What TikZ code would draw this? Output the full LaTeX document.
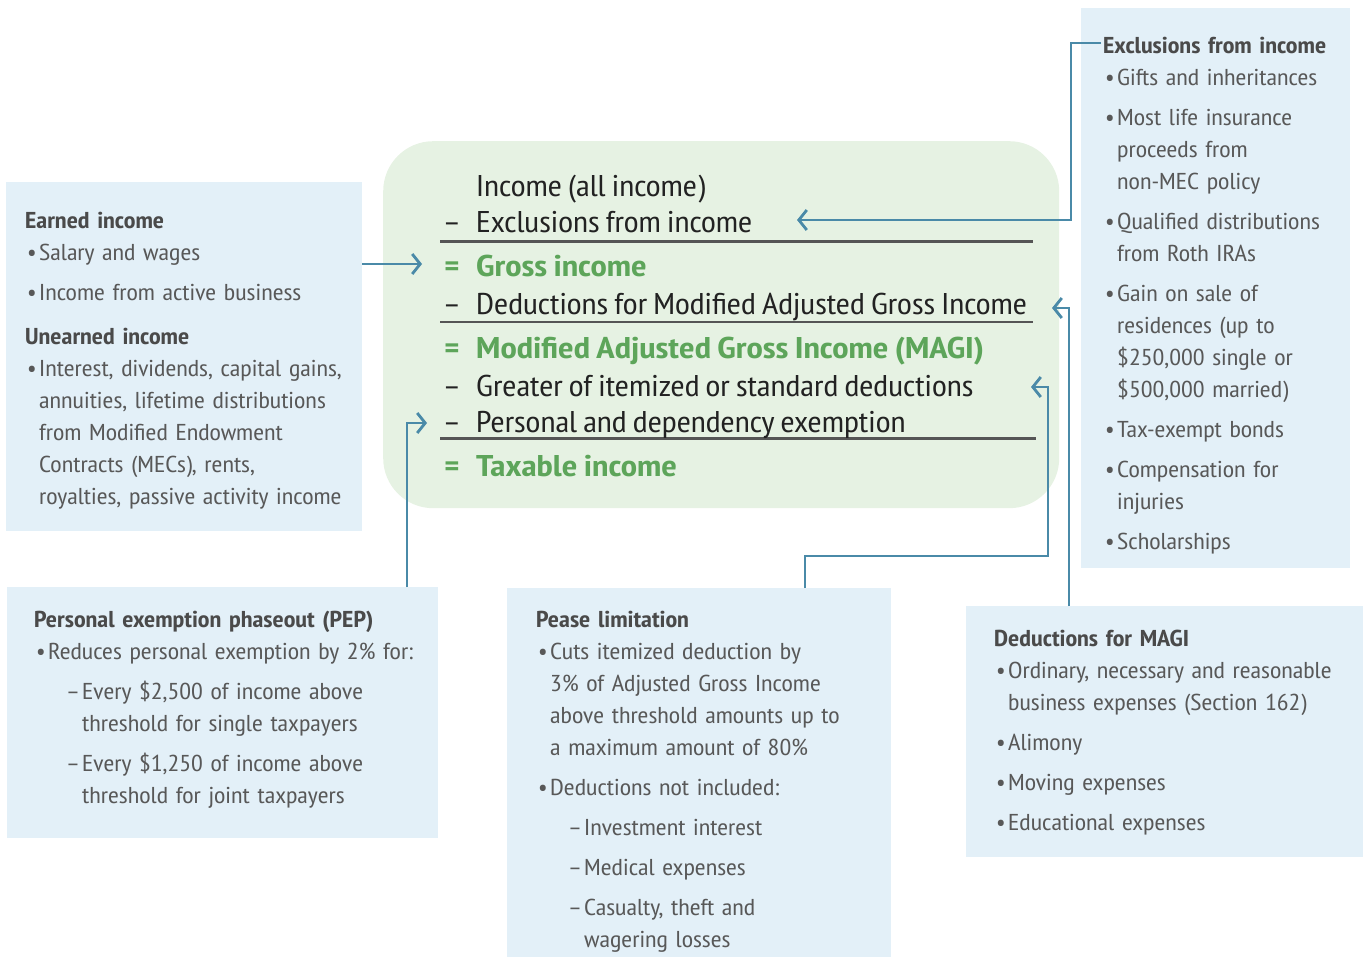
\documentclass[tikz,border=0pt]{standalone}
\usepackage{fontspec}
\setmainfont[FakeStretch=1.14,WordSpace=0.85]{PT Sans Narrow}
\newfontfamily\widefont[FakeStretch=1.22,WordSpace=0.85]{PT Sans Narrow}
\usetikzlibrary{arrows.meta,calc}

\definecolor{boxblue}{HTML}{E3F0F8}
\definecolor{sumgreen}{HTML}{E6F2E3}
\definecolor{linkblue}{HTML}{4A8AA8}
\definecolor{greentext}{HTML}{5DA55A}
\definecolor{headgray}{HTML}{4A4A4A}
\definecolor{bodygray}{HTML}{585858}
\definecolor{maintext}{HTML}{222222}
\definecolor{rulegray}{HTML}{555555}

\newcommand\bulit{\makebox[14pt][l]{\hspace{2pt}•}}
\newcommand\bindent{\hspace*{14pt}}
\newcommand\dashit{\hspace*{32pt}\makebox[16pt][l]{–}}
\newcommand\dindent{\hspace*{48pt}}
\newcommand\hd[1]{\textbf{\color{headgray}#1}}

\tikzset{
  infobox/.style={fill=boxblue, draw=none, anchor=north west, inner sep=0pt},
  sumbox/.style={fill=sumgreen, draw=none, anchor=north west, inner sep=0pt, rounded corners=50pt},
  boxtext/.style={anchor=base west, inner sep=0pt, align=left, text width=420pt,
    text=bodygray, font=\fontsize{23}{32}\selectfont},
  mainrow/.style={anchor=base west, inner sep=0pt, text=maintext, font=\fontsize{30}{36}\selectfont},
  greenrow/.style={anchor=base west, inner sep=0pt, text=greentext, font=\widefont\fontsize{30}{36}\selectfont\bfseries},
  minussign/.style={anchor=base, inner sep=0pt, text=maintext, font=\fontsize{30}{36}\selectfont},
  equalsign/.style={anchor=base, inner sep=0pt, text=greentext, font=\fontsize{30}{36}\selectfont\bfseries},
  sumrule/.style={draw=rulegray, line width=2.2pt},
  link/.style={draw=linkblue, line width=2pt},
  tipend/.style={-{Straight Barb[length=8pt,width=20pt,line width=2.8pt]}}
}

\begin{document}
\begin{tikzpicture}[x=1pt,y=-1pt]
\useasboundingbox (0,0) rectangle (1364,957);

% background panels
\node[infobox, minimum width=269pt, minimum height=560pt] (exbox) at (1081,8) {};
\node[infobox, minimum width=356pt, minimum height=349pt] (earnbox) at (6,182) {};
\node[infobox, minimum width=431pt, minimum height=251pt] (pepbox) at (7,587) {};
\node[infobox, minimum width=384pt, minimum height=370pt] (peasebox) at (507,588) {};
\node[infobox, minimum width=397pt, minimum height=251pt] (magibox) at (966,606) {};
\node[sumbox, minimum width=676pt, minimum height=367pt] (sumbox) at (383,141) {};

% rules of the calculation
\draw[sumrule] (440,241.5) -- (1033,241.5);
\draw[sumrule] (440,322) -- (1033,322);
\draw[sumrule] (440,438.5) -- (1036,438.5);

% connector bends and tips
\coordinate (exstart) at (1101,43);
\coordinate (exbend) at (1071,220);
\coordinate (extip) at (797,220);
\coordinate (grosstip) at (422,264);
\coordinate (pepbend) at (407,423);
\coordinate (peptip) at (427,423);
\coordinate (pbend1) at (805,556);
\coordinate (pbend2) at (1048,556);
\coordinate (ptip) at (1031,387);
\coordinate (mbend) at (1069,308);
\coordinate (mtip) at (1052,308);

\draw[link,tipend] (exstart) -| (exbend) -- (extip);
\draw[link,tipend] (earnbox.east |- grosstip) -- (grosstip);
\draw[link,tipend] (pepbend |- pepbox.north) -- (pepbend) -- (peptip);
\draw[link,tipend] (pbend1 |- peasebox.north) -- (pbend1) -- (pbend2) |- (ptip);
\draw[link,tipend] (mbend |- magibox.north) -- (mbend) -- (mtip);

% calculation rows
\node[mainrow] (r1) at (476,197) {Income (all income)};
\node[minussign] (s2) at (452,233) {–};
\node[mainrow] (r2) at (476,233) {Exclusions from income};
\node[equalsign] (s3) at (452,277) {=};
\node[greenrow] (r3) at (476,277) {Gross income};
\node[minussign] (s4) at (452,314) {–};
\node[mainrow] (r4) at (476,314) {Deductions for Modified Adjusted Gross Income};
\node[equalsign] (s5) at (452,358) {=};
\node[greenrow] (r5) at (476,358) {Modified Adjusted Gross Income (MAGI)};
\node[minussign] (s6) at (452,396) {–};
\node[mainrow] (r6) at (476,396) {Greater of itemized or standard deductions};
\node[minussign] (s7) at (452,432) {–};
\node[mainrow] (r7) at (476,432) {Personal and dependency exemption};
\node[equalsign] (s8) at (452,476) {=};
\node[greenrow] (r8) at (476,476) {Taxable income};

% panel texts
\node[boxtext] (extxt) at (1103,54) {\hd{Exclusions from income}\\
\bulit Gifts and inheritances\\[8pt]
\bulit Most life insurance\\
\bindent proceeds from\\
\bindent non-MEC policy\\[8pt]
\bulit Qualified distributions\\
\bindent from Roth IRAs\\[8pt]
\bulit Gain on sale of\\
\bindent residences (up to\\
\bindent \$250,000 single or\\
\bindent \$500,000 married)\\[8pt]
\bulit Tax-exempt bonds\\[8pt]
\bulit Compensation for\\
\bindent injuries\\[8pt]
\bulit Scholarships};

\node[boxtext] (earntxt) at (25,229) {\hd{Earned income}\\
\bulit Salary and wages\\[8pt]
\bulit Income from active business\\[12pt]
\hd{Unearned income}\\
\bulit Interest, dividends, capital gains,\\
\bindent annuities, lifetime distributions\\
\bindent from Modified Endowment\\
\bindent Contracts (MECs), rents,\\
\bindent royalties, passive activity income};

\node[boxtext] (peptxt) at (34,627) {\hd{Personal exemption phaseout (PEP)}\\
\bulit Reduces personal exemption by 2\% for:\\[8pt]
\dashit Every \$2,500 of income above\\
\dindent threshold for single taxpayers\\[8pt]
\dashit Every \$1,250 of income above\\
\dindent threshold for joint taxpayers};

\node[boxtext] (peasetxt) at (536,627) {\hd{Pease limitation}\\
\bulit Cuts itemized deduction by\\
\bindent 3\% of Adjusted Gross Income\\
\bindent above threshold amounts up to\\
\bindent a maximum amount of 80\%\\[8pt]
\bulit Deductions not included:\\[8pt]
\dashit Investment interest\\[8pt]
\dashit Medical expenses\\[8pt]
\dashit Casualty, theft and\\
\dindent wagering losses};

\node[boxtext] (magitxt) at (994,646) {\hd{Deductions for MAGI}\\
\bulit Ordinary, necessary and reasonable\\
\bindent business expenses (Section 162)\\[8pt]
\bulit Alimony\\[8pt]
\bulit Moving expenses\\[8pt]
\bulit Educational expenses};
\end{tikzpicture}
\end{document}
